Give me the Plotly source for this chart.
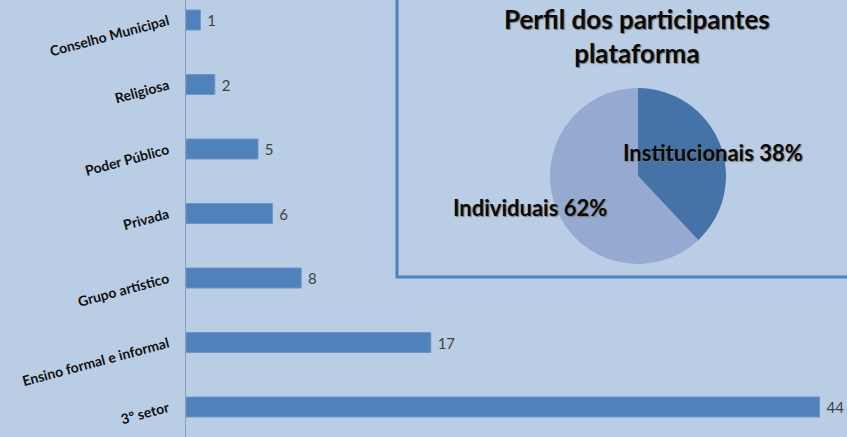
import plotly.graph_objects as go

# Bar chart data (top to bottom as shown)
categories = ["Conselho Municipal", "Religiosa", "Poder Público", "Privada",
              "Grupo artístico", "Ensino formal e informal", "3º setor"]
values = [1, 2, 5, 6, 8, 17, 44]

# Pie chart data
pie_labels = ["Institucionais", "Individuais"]
pie_values = [38, 62]
pie_title = "Perfil dos participantes<br>plataforma"

BG = "#B9CDE5"
BAR = "#4F81BD"

fig = go.Figure()

fig.add_trace(go.Bar(
    x=values, y=categories, orientation="h",
    marker=dict(color=BAR, line=dict(color="#6F95C8", width=1)),
    width=0.31,
    text=["\u00a0" + str(v) for v in values], textposition="outside",
    textfont=dict(family="Lato", size=15, color="#404040"),
    cliponaxis=False,
    showlegend=False, hoverinfo="skip",
))

fig.add_trace(go.Pie(
    labels=pie_labels, values=pie_values,
    sort=False, direction="clockwise", rotation=0,
    marker=dict(colors=["#4572A7", "#95A9D1"], line=dict(width=0)),
    textinfo="none", showlegend=False, hoverinfo="skip",
    domain=dict(x=[0.5507, 0.8169], y=[0.3959, 0.7986]),
))

total = sum(pie_values)
pie_pos = {"Institucionais": (0.797, 0.650), "Individuais": (0.520, 0.526)}
annotations = []
for lab, val in zip(pie_labels, pie_values):
    px, py = pie_pos[lab]
    annotations.append(dict(
        text=f"{lab} {round(100*val/total)}%", x=px, y=py, xref="paper", yref="paper",
        showarrow=False, xanchor="center", yanchor="middle",
        font=dict(family="Lato", size=22, color="#0a0a0a", weight="bold",
                  shadow="1px 1px 1px #777"),
    ))
annotations.append(dict(
    text=pie_title, x=0.682, y=1 - 1/437, xref="paper", yref="paper",
    showarrow=False, xanchor="center", yanchor="top",
    font=dict(family="Lato", size=26, color="#0a0a0a", weight="bold",
              shadow="1px 1px 1px #777"),
))

n = len(categories)
fig.update_layout(
    width=847, height=437,
    margin=dict(l=186, r=0, t=0, b=0),
    paper_bgcolor=BG, plot_bgcolor=BG,
    xaxis=dict(range=[0, 45.9], showgrid=False, zeroline=False,
               showticklabels=False, showline=False),
    yaxis=dict(categoryorder="array", categoryarray=categories,
               range=[n - 1 + 0.465, -0.31],
               showgrid=False, zeroline=False,
               showline=True, linecolor="#8A9CB4", linewidth=1,
               ticks="", tickangle=-15, ticklabelstandoff=14,
               tickfont=dict(family="Lato", size=14, color="#111111", weight="bold")),
    annotations=annotations,
    shapes=[
        dict(type="rect", xref="paper", yref="paper",
             x0=(397 - 186) / 661, x1=1.02, y0=1 - 277 / 437, y1=1.02,
             line=dict(color=BAR, width=3), fillcolor="rgba(0,0,0,0)", layer="below"),
    ],
)

fig.write_html("out.html", config={"displayModeBar": False},
               post_script="document.body.style.margin='0';document.body.style.background='" + BG + "';")
